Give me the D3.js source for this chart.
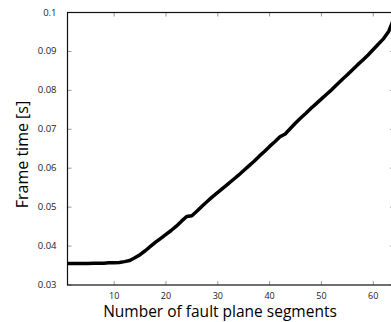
<!DOCTYPE html>
<html><head><meta charset="utf-8">
<script src="https://cdn.jsdelivr.net/npm/d3@7"></script>
<style>body{margin:0;background:#fff}svg{display:block}</style>
</head><body>
<svg id="c" width="391" height="322"></svg>
<script>
const segments = d3.range(1, 65);
const frameTime = [
0.0355,0.0355,0.0355,0.0355,0.0355,0.0356,0.0356,0.0356,0.0357,0.0357,
0.0358,0.0360,0.0363,0.0370,0.0378,0.0388,0.0399,0.0410,0.0420,0.0430,
0.0440,0.0451,0.0464,0.0476,0.0478,0.0490,0.0503,0.0515,0.0527,0.0538,
0.0549,0.0560,0.0571,0.0582,0.0594,0.0606,0.0618,0.0631,0.0643,0.0656,
0.0668,0.0681,0.0688,0.0702,0.0716,0.0729,0.0741,0.0754,0.0766,0.0778,
0.0790,0.0802,0.0815,0.0828,0.0840,0.0853,0.0866,0.0878,0.0891,0.0905,
0.0919,0.0933,0.0952,0.0985];
const xTicks = [10,20,30,40,50,60];
const yTicks = [0.03,0.04,0.05,0.06,0.07,0.08,0.09,0.1];
const xTitle = "Number of fault plane segments";
const yTitle = "Frame time [s]";

const svg = d3.select("#c");
const L = 67.5, R = 394, T = 12.5, B = 285;
const x = d3.scaleLinear().domain([1, 64]).range([L, R]);
const y = d3.scaleLinear().domain([0.03, 0.1]).range([B, T]);
const font = "'Open Sans', sans-serif";

const tc = "#999";
const g = svg.append("g");
xTicks.forEach(t => {
  g.append("line").attr("x1", x(t)).attr("x2", x(t)).attr("y1", B).attr("y2", B-4).attr("stroke", tc);
  g.append("line").attr("x1", x(t)).attr("x2", x(t)).attr("y1", T).attr("y2", T+4).attr("stroke", tc);
  g.append("text").attr("x", x(t)).attr("y", B+13.5).attr("text-anchor","middle")
    .attr("font-family", font).attr("font-size", 9).attr("fill","#222").text(t);
});
yTicks.forEach(t => {
  g.append("line").attr("x1", L).attr("x2", L+4).attr("y1", y(t)).attr("y2", y(t)).attr("stroke", tc);
  g.append("line").attr("x1", R).attr("x2", R-4).attr("y1", y(t)).attr("y2", y(t)).attr("stroke", tc);
  g.append("text").attr("x", L-11).attr("y", y(t)+3).attr("text-anchor","end")
    .attr("font-family", font).attr("font-size", 9.5).attr("fill","#222").text(d3.format("")(t));
});

svg.append("rect").attr("x", L).attr("y", T).attr("width", R-L).attr("height", B-T)
  .attr("fill","none").attr("stroke","#111").attr("stroke-width",1.2);

const line = d3.line().x((d,i)=>x(segments[i])).y(d=>y(d));
svg.append("path").datum(frameTime).attr("d", line).attr("fill","none")
  .attr("stroke","#000").attr("stroke-width",3.5).attr("stroke-linejoin","round");

svg.append("text").attr("x", 220).attr("y", 317).attr("text-anchor","middle")
  .attr("font-family", font).attr("font-size", 15.5).attr("fill","#000").text(xTitle);
svg.append("text").attr("transform", `translate(28,154.5) rotate(-90)`).attr("text-anchor","middle")
  .attr("font-family", font).attr("font-size", 16).attr("fill","#000").text(yTitle);
</script>
</body></html>
